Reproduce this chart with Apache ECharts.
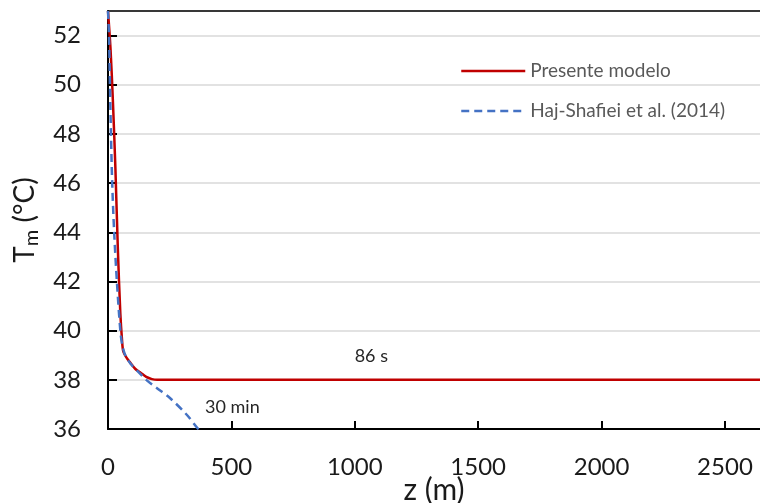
<!DOCTYPE html>
<html>
<head>
<meta charset="utf-8">
<script src="https://cdn.jsdelivr.net/npm/echarts@6/dist/echarts.min.js"></script>
<style>html,body{margin:0;padding:0;background:#fff}#c{width:760px;height:503px}</style>
</head>
<body>
<div id="c"></div>
<script>
// Presente modelo: [z (m), Tm (°C)]
var presenteModelo = [[0,53.0],[10,51.5],[20,49.3],[30,46.6],[40,43.3],[50,40.7],[57,39.6],[62,39.15],[75,38.9],[90,38.7],[110,38.45],[131,38.3],[155,38.12],[178,38.03],[199,38.0],[2700,38.0]];
// Haj-Shafiei et al. (2014)
var hajShafiei = [[0,53.0],[4,52],[8,50],[12,48],[17,46],[25,44],[36,42],[50,40],[58,39.4],[70,39.0],[90,38.67],[120,38.35],[155,38.0],[200,37.65],[252,37.25],[320,36.57],[363,36.03],[380,35.9]];
var seriesNames = ['Presente modelo', 'Haj-Shafiei et al. (2014)'];
var annotations = [{text:'86 s', z:1067, t:38.96},{text:'30 min', z:504, t:36.89}];
var xMin = 0, xMax = 2642, xInterval = 500;
var yMin = 36, yMax = 53, yInterval = 2;

var FONT = 'Lato';
var chart = echarts.init(document.getElementById('c'), null, {renderer:'canvas'});
chart.setOption({
  animation:false,
  backgroundColor:'#fff',
  grid:{left:108, top:11, right:0, bottom:74, containLabel:false, outerBoundsMode:'none'},
  legend:{
    orient:'vertical', left:460, top:61, padding:0, itemWidth:64, itemHeight:20, itemGap:20,
    itemStyle:{color:'rgba(0,0,0,0)', borderColor:'rgba(0,0,0,0)', borderWidth:0, opacity:0},
    lineStyle:{width:2.5},
    textStyle:{fontFamily:FONT, fontSize:19, lineHeight:20, color:'#595959'},
    data:seriesNames
  },
  xAxis:[{
    type:'value', min:xMin, max:xMax, interval:xInterval,
    name:'z (m)', nameLocation:'middle', nameGap:46, nameMoveOverlap:false,
    nameTextStyle:{fontFamily:FONT, fontSize:30, color:'#1a1a1a'},
    axisLine:{lineStyle:{color:'#000', width:2}},
    axisTick:{inside:true, length:8, lineStyle:{color:'#000', width:2}},
    axisLabel:{fontFamily:FONT, fontSize:24, color:'#1a1a1a', margin:26, showMaxLabel:false,
      formatter:function(v){return String(v);}},
    splitLine:{show:false}
  },{
    type:'value', position:'top', min:xMin, max:xMax,
    axisLine:{show:true, lineStyle:{color:'#000', width:1.5}},
    axisTick:{show:false}, axisLabel:{show:false}, splitLine:{show:false}
  }],
  yAxis:{
    type:'value', min:yMin, max:yMax, interval:yInterval,
    name:'{a|T}{b|m}{a| (°C)}', nameLocation:'middle', nameGap:66, nameMoveOverlap:false,
    nameTextStyle:{fontFamily:FONT, color:'#1a1a1a',
      rich:{a:{fontFamily:FONT, fontSize:28, color:'#1a1a1a', lineHeight:34, verticalAlign:'middle'},
            b:{fontFamily:FONT, fontSize:20, color:'#1a1a1a', verticalAlign:'bottom'}}},
    axisLine:{show:true, lineStyle:{color:'#000', width:2}},
    axisTick:{inside:true, length:9, lineStyle:{color:'#000', width:2}},
    axisLabel:{fontFamily:FONT, fontSize:24, color:'#1a1a1a', margin:27, showMaxLabel:false},
    splitLine:{lineStyle:{color:'#d9d9d9', width:1.5}}
  },
  series:[{
    name:seriesNames[0], type:'line', data:presenteModelo, symbol:'none', smooth:0.3,
    lineStyle:{color:'#C00000', width:2.5}, itemStyle:{color:'#C00000'}, z:2, clip:true,
    markPoint:{
      symbol:'circle', symbolSize:1, itemStyle:{color:'rgba(0,0,0,0)'},
      label:{show:true, position:'inside', fontFamily:FONT, fontSize:18, color:'#262626',
        formatter:function(p){return p.name;}},
      data:annotations.map(function(a){return {name:a.text, coord:[a.z, a.t]};})
    }
  },{
    name:seriesNames[1], type:'line', data:hajShafiei, symbol:'none', smooth:0.3,
    lineStyle:{color:'#4472C4', width:2.5, type:[8,5]}, itemStyle:{color:'#4472C4'}, z:3, clip:true
  }]
});
</script>
</body>
</html>
